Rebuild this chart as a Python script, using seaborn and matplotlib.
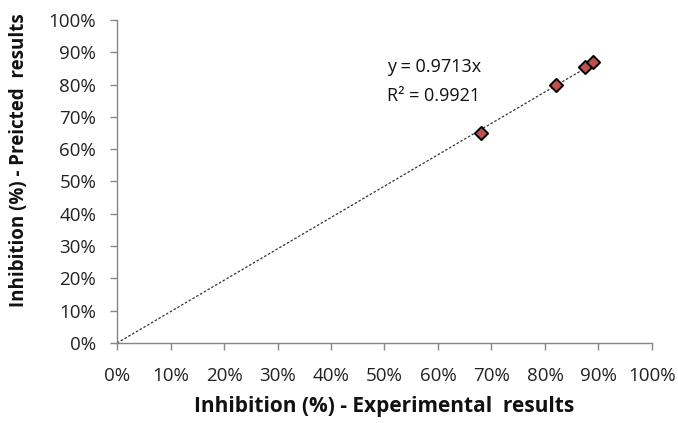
import numpy as np
import pandas as pd
import matplotlib
matplotlib.use("Agg")
import matplotlib.pyplot as plt
import seaborn as sns
from matplotlib.ticker import PercentFormatter, MultipleLocator

# Measured vs predicted inhibition (fractions)
experimental = [0.68, 0.82, 0.875, 0.89]
predicted = [0.65, 0.80, 0.853, 0.87]
slope = 0.9713
r_squared = 0.9921

df = pd.DataFrame({"exp": experimental, "pred": predicted})

sns.set_theme(style="white")
plt.rcParams["font.family"] = ["Open Sans", "DejaVu Sans"]

fig = plt.figure(figsize=(6.78, 4.23), dpi=100)
ax = fig.add_axes([0.1726, 0.189, 0.789, 0.764])

# Zero-intercept trend line
xs = np.array([0.0, max(experimental) + 0.005])
ax.plot(xs, slope * xs, linestyle=(0, (2, 1.5)), color="#333333", linewidth=0.9, zorder=2)

sns.scatterplot(data=df, x="exp", y="pred", ax=ax, marker="D", s=45,
                color="#C0504D", edgecolor="black", linewidth=1.4, zorder=3)

ax.set_xlim(0, 1)
ax.set_ylim(0, 1)
ax.xaxis.set_major_locator(MultipleLocator(0.1))
ax.yaxis.set_major_locator(MultipleLocator(0.1))
ax.xaxis.set_major_formatter(PercentFormatter(1.0, decimals=0))
ax.yaxis.set_major_formatter(PercentFormatter(1.0, decimals=0))

for side in ["top", "right"]:
    ax.spines[side].set_visible(False)
for side in ["left", "bottom"]:
    ax.spines[side].set_color("#868686")
    ax.spines[side].set_linewidth(1.0)
ax.tick_params(axis="both", which="major", direction="out", length=5, width=1.0,
               color="#868686", labelsize=13.5, labelcolor="#222222")
ax.tick_params(axis="x", pad=12)
ax.tick_params(axis="y", pad=10)
ax.tick_params(axis="both", bottom=True, left=True)

ax.set_xlabel("Inhibition (%) - Experimental  results", fontsize=15, fontweight="bold",
              color="#111111", labelpad=8)
ax.set_ylabel("Inhibition (%) - Preicted  results", fontsize=13.5, fontweight="bold",
              color="#111111")
ax.yaxis.set_label_coords(-0.165, 0.565)

ax.text(0.505, 0.855, f"y = {slope}x", fontsize=13, color="#111111", va="center", ha="left")
ax.text(0.505, 0.765, f"R² = {r_squared}", fontsize=13, color="#111111", va="center", ha="left")

fig.savefig("out.png", dpi=100)
